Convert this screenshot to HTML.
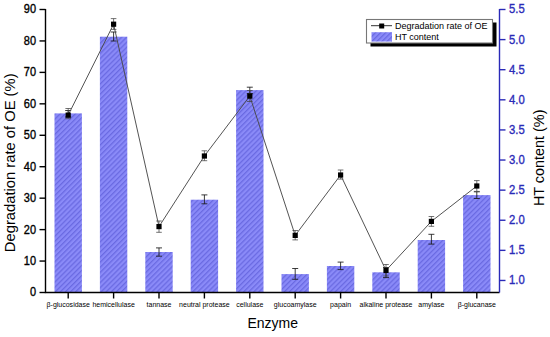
<!DOCTYPE html><html><head><meta charset="utf-8"><style>html,body{margin:0;padding:0;background:#fff;font-family:"Liberation Sans",sans-serif;}svg{display:block;}</style></head><body>
<svg width="550" height="337" viewBox="0 0 550 337" style="font-family:&quot;Liberation Sans&quot;,sans-serif">
<defs><pattern id="h" patternUnits="userSpaceOnUse" width="3.6" height="3.6" patternTransform="rotate(-45)"><rect width="3.6" height="3.6" fill="#8a8af8"/><rect width="3.6" height="1.3" fill="#6a6ae2"/></pattern></defs>
<rect width="550" height="337" fill="#fff"/>
<rect x="54.50" y="113.40" width="27.4" height="179.10" fill="url(#h)"/>
<rect x="99.90" y="36.70" width="27.4" height="255.80" fill="url(#h)"/>
<rect x="145.30" y="252.00" width="27.4" height="40.50" fill="url(#h)"/>
<rect x="190.70" y="199.70" width="27.4" height="92.80" fill="url(#h)"/>
<rect x="236.10" y="90.10" width="27.4" height="202.40" fill="url(#h)"/>
<rect x="281.50" y="274.10" width="27.4" height="18.40" fill="url(#h)"/>
<rect x="326.90" y="266.00" width="27.4" height="26.50" fill="url(#h)"/>
<rect x="372.30" y="272.30" width="27.4" height="20.20" fill="url(#h)"/>
<rect x="417.70" y="240.00" width="27.4" height="52.50" fill="url(#h)"/>
<rect x="463.10" y="195.10" width="27.4" height="97.40" fill="url(#h)"/>
<path d="M65.20 110.5H71.20M68.20 110.5V117.0M65.20 117.0H71.20" stroke="#1a1a1a" stroke-width="0.85" fill="none"/>
<path d="M110.60 32.0H116.60M113.60 32.0V41.0M110.60 41.0H116.60" stroke="#1a1a1a" stroke-width="0.85" fill="none"/>
<path d="M156.00 247.9H162.00M159.00 247.9V256.2M156.00 256.2H162.00" stroke="#1a1a1a" stroke-width="0.85" fill="none"/>
<path d="M201.40 194.9H207.40M204.40 194.9V203.8M201.40 203.8H207.40" stroke="#1a1a1a" stroke-width="0.85" fill="none"/>
<path d="M246.80 87.2H252.80M249.80 87.2V93.5M246.80 93.5H252.80" stroke="#1a1a1a" stroke-width="0.85" fill="none"/>
<path d="M292.20 268.5H298.20M295.20 268.5V279.3M292.20 279.3H298.20" stroke="#1a1a1a" stroke-width="0.85" fill="none"/>
<path d="M337.60 262.1H343.60M340.60 262.1V269.6M337.60 269.6H343.60" stroke="#1a1a1a" stroke-width="0.85" fill="none"/>
<path d="M383.00 267.5H389.00M386.00 267.5V277.6M383.00 277.6H389.00" stroke="#1a1a1a" stroke-width="0.85" fill="none"/>
<path d="M428.40 234.3H434.40M431.40 234.3V244.1M428.40 244.1H434.40" stroke="#1a1a1a" stroke-width="0.85" fill="none"/>
<path d="M473.80 191.8H479.80M476.80 191.8V198.5M473.80 198.5H479.80" stroke="#1a1a1a" stroke-width="0.85" fill="none"/>
<polyline points="68.20,115.1 113.60,24.2 159.00,226.6 204.40,156.0 249.80,96.1 295.20,235.4 340.60,175.0 386.00,270.4 431.40,221.4 476.80,186.0" fill="none" stroke="#4a4a4a" stroke-width="0.95"/>
<path d="M65.40 108.5H71.00M68.20 108.5V118.7M65.40 118.7H71.00" stroke="#444" stroke-width="0.75" fill="none"/>
<path d="M110.80 18.6H116.40M113.60 18.6V29.4M110.80 29.4H116.40" stroke="#444" stroke-width="0.75" fill="none"/>
<path d="M156.20 221.0H161.80M159.00 221.0V232.3M156.20 232.3H161.80" stroke="#444" stroke-width="0.75" fill="none"/>
<path d="M201.60 150.8H207.20M204.40 150.8V160.7M201.60 160.7H207.20" stroke="#444" stroke-width="0.75" fill="none"/>
<path d="M247.00 90.5H252.60M249.80 90.5V101.5M247.00 101.5H252.60" stroke="#444" stroke-width="0.75" fill="none"/>
<path d="M292.40 230.5H298.00M295.20 230.5V239.9M292.40 239.9H298.00" stroke="#444" stroke-width="0.75" fill="none"/>
<path d="M337.80 170.0H343.40M340.60 170.0V179.1M337.80 179.1H343.40" stroke="#444" stroke-width="0.75" fill="none"/>
<path d="M383.20 264.5H388.80M386.00 264.5V276.0M383.20 276.0H388.80" stroke="#444" stroke-width="0.75" fill="none"/>
<path d="M428.60 216.5H434.20M431.40 216.5V226.3M428.60 226.3H434.20" stroke="#444" stroke-width="0.75" fill="none"/>
<path d="M474.00 180.6H479.60M476.80 180.6V191.4M474.00 191.4H479.60" stroke="#444" stroke-width="0.75" fill="none"/>
<rect x="65.60" y="112.50" width="5.2" height="5.2" fill="#000"/>
<rect x="111.00" y="21.60" width="5.2" height="5.2" fill="#000"/>
<rect x="156.40" y="224.00" width="5.2" height="5.2" fill="#000"/>
<rect x="201.80" y="153.40" width="5.2" height="5.2" fill="#000"/>
<rect x="247.20" y="93.50" width="5.2" height="5.2" fill="#000"/>
<rect x="292.60" y="232.80" width="5.2" height="5.2" fill="#000"/>
<rect x="338.00" y="172.40" width="5.2" height="5.2" fill="#000"/>
<rect x="383.40" y="267.80" width="5.2" height="5.2" fill="#000"/>
<rect x="428.80" y="218.80" width="5.2" height="5.2" fill="#000"/>
<rect x="474.20" y="183.40" width="5.2" height="5.2" fill="#000"/>
<path d="M45.5 9.0V292.5H499.5" stroke="#000" stroke-width="1.4" fill="none"/>
<path d="M39.5 292.50H45.5" stroke="#000" stroke-width="1.4"/>
<text transform="translate(36,296.40) scale(0.9,1)" font-size="12.2" text-anchor="end" fill="#000" stroke="#000" stroke-width="0.35">0</text>
<path d="M39.5 261.06H45.5" stroke="#000" stroke-width="1.4"/>
<text transform="translate(36,264.96) scale(0.9,1)" font-size="12.2" text-anchor="end" fill="#000" stroke="#000" stroke-width="0.35">10</text>
<path d="M39.5 229.61H45.5" stroke="#000" stroke-width="1.4"/>
<text transform="translate(36,233.51) scale(0.9,1)" font-size="12.2" text-anchor="end" fill="#000" stroke="#000" stroke-width="0.35">20</text>
<path d="M39.5 198.17H45.5" stroke="#000" stroke-width="1.4"/>
<text transform="translate(36,202.07) scale(0.9,1)" font-size="12.2" text-anchor="end" fill="#000" stroke="#000" stroke-width="0.35">30</text>
<path d="M39.5 166.72H45.5" stroke="#000" stroke-width="1.4"/>
<text transform="translate(36,170.62) scale(0.9,1)" font-size="12.2" text-anchor="end" fill="#000" stroke="#000" stroke-width="0.35">40</text>
<path d="M39.5 135.28H45.5" stroke="#000" stroke-width="1.4"/>
<text transform="translate(36,139.18) scale(0.9,1)" font-size="12.2" text-anchor="end" fill="#000" stroke="#000" stroke-width="0.35">50</text>
<path d="M39.5 103.83H45.5" stroke="#000" stroke-width="1.4"/>
<text transform="translate(36,107.73) scale(0.9,1)" font-size="12.2" text-anchor="end" fill="#000" stroke="#000" stroke-width="0.35">60</text>
<path d="M39.5 72.39H45.5" stroke="#000" stroke-width="1.4"/>
<text transform="translate(36,76.29) scale(0.9,1)" font-size="12.2" text-anchor="end" fill="#000" stroke="#000" stroke-width="0.35">70</text>
<path d="M39.5 40.94H45.5" stroke="#000" stroke-width="1.4"/>
<text transform="translate(36,44.84) scale(0.9,1)" font-size="12.2" text-anchor="end" fill="#000" stroke="#000" stroke-width="0.35">80</text>
<path d="M39.5 9.50H45.5" stroke="#000" stroke-width="1.4"/>
<text transform="translate(36,13.40) scale(0.9,1)" font-size="12.2" text-anchor="end" fill="#000" stroke="#000" stroke-width="0.35">90</text>
<path d="M68.20 292.5V298.5" stroke="#000" stroke-width="1.4"/>
<text transform="translate(68.20,307.3) scale(0.91,1)" font-size="7.7" text-anchor="middle" fill="#000">β-glucosidase</text>
<path d="M113.60 292.5V298.5" stroke="#000" stroke-width="1.4"/>
<text transform="translate(113.60,307.3) scale(0.91,1)" font-size="7.7" text-anchor="middle" fill="#000">hemicellulase</text>
<path d="M159.00 292.5V298.5" stroke="#000" stroke-width="1.4"/>
<text transform="translate(159.00,307.3) scale(0.91,1)" font-size="7.7" text-anchor="middle" fill="#000">tannase</text>
<path d="M204.40 292.5V298.5" stroke="#000" stroke-width="1.4"/>
<text transform="translate(204.40,307.3) scale(0.91,1)" font-size="7.7" text-anchor="middle" fill="#000">neutral protease</text>
<path d="M249.80 292.5V298.5" stroke="#000" stroke-width="1.4"/>
<text transform="translate(249.80,307.3) scale(0.91,1)" font-size="7.7" text-anchor="middle" fill="#000">cellulase</text>
<path d="M295.20 292.5V298.5" stroke="#000" stroke-width="1.4"/>
<text transform="translate(295.20,307.3) scale(0.91,1)" font-size="7.7" text-anchor="middle" fill="#000">glucoamylase</text>
<path d="M340.60 292.5V298.5" stroke="#000" stroke-width="1.4"/>
<text transform="translate(340.60,307.3) scale(0.91,1)" font-size="7.7" text-anchor="middle" fill="#000">papain</text>
<path d="M386.00 292.5V298.5" stroke="#000" stroke-width="1.4"/>
<text transform="translate(386.00,307.3) scale(0.91,1)" font-size="7.7" text-anchor="middle" fill="#000">alkaline protease</text>
<path d="M431.40 292.5V298.5" stroke="#000" stroke-width="1.4"/>
<text transform="translate(431.40,307.3) scale(0.91,1)" font-size="7.7" text-anchor="middle" fill="#000">amylase</text>
<path d="M476.80 292.5V298.5" stroke="#000" stroke-width="1.4"/>
<text transform="translate(476.80,307.3) scale(0.91,1)" font-size="7.7" text-anchor="middle" fill="#000">β-glucanase</text>
<path d="M499.5 292.5V9.0" stroke="#2a2ab8" stroke-width="1.4" fill="none"/>
<path d="M499.5 280.46H505.5" stroke="#2a2ab8" stroke-width="1.4"/>
<text transform="translate(509,284.36) scale(0.92,1)" font-size="12.3" fill="#2a2ab8" stroke="#2a2ab8" stroke-width="0.35">1.0</text>
<path d="M499.5 250.35H505.5" stroke="#2a2ab8" stroke-width="1.4"/>
<text transform="translate(509,254.25) scale(0.92,1)" font-size="12.3" fill="#2a2ab8" stroke="#2a2ab8" stroke-width="0.35">1.5</text>
<path d="M499.5 220.24H505.5" stroke="#2a2ab8" stroke-width="1.4"/>
<text transform="translate(509,224.14) scale(0.92,1)" font-size="12.3" fill="#2a2ab8" stroke="#2a2ab8" stroke-width="0.35">2.0</text>
<path d="M499.5 190.14H505.5" stroke="#2a2ab8" stroke-width="1.4"/>
<text transform="translate(509,194.04) scale(0.92,1)" font-size="12.3" fill="#2a2ab8" stroke="#2a2ab8" stroke-width="0.35">2.5</text>
<path d="M499.5 160.03H505.5" stroke="#2a2ab8" stroke-width="1.4"/>
<text transform="translate(509,163.93) scale(0.92,1)" font-size="12.3" fill="#2a2ab8" stroke="#2a2ab8" stroke-width="0.35">3.0</text>
<path d="M499.5 129.93H505.5" stroke="#2a2ab8" stroke-width="1.4"/>
<text transform="translate(509,133.83) scale(0.92,1)" font-size="12.3" fill="#2a2ab8" stroke="#2a2ab8" stroke-width="0.35">3.5</text>
<path d="M499.5 99.82H505.5" stroke="#2a2ab8" stroke-width="1.4"/>
<text transform="translate(509,103.72) scale(0.92,1)" font-size="12.3" fill="#2a2ab8" stroke="#2a2ab8" stroke-width="0.35">4.0</text>
<path d="M499.5 69.71H505.5" stroke="#2a2ab8" stroke-width="1.4"/>
<text transform="translate(509,73.61) scale(0.92,1)" font-size="12.3" fill="#2a2ab8" stroke="#2a2ab8" stroke-width="0.35">4.5</text>
<path d="M499.5 39.61H505.5" stroke="#2a2ab8" stroke-width="1.4"/>
<text transform="translate(509,43.51) scale(0.92,1)" font-size="12.3" fill="#2a2ab8" stroke="#2a2ab8" stroke-width="0.35">5.0</text>
<path d="M499.5 9.50H505.5" stroke="#2a2ab8" stroke-width="1.4"/>
<text transform="translate(509,13.40) scale(0.92,1)" font-size="12.3" fill="#2a2ab8" stroke="#2a2ab8" stroke-width="0.35">5.5</text>
<text x="247.5" y="328.3" font-size="14" fill="#000">Enzyme</text>
<text transform="translate(15,162.8) rotate(-90)" font-size="14.75" text-anchor="middle" fill="#000">Degradation rate of OE (%)</text>
<text transform="translate(544.2,157.8) rotate(-90)" font-size="14.4" text-anchor="middle" fill="#000">HT content (%)</text>
<rect x="370.5" y="22.5" width="126" height="24" fill="#000"/>
<rect x="366.5" y="19.5" width="126" height="23.5" fill="#fff" stroke="#777" stroke-width="1.1"/>
<path d="M371 25.7H392" stroke="#333" stroke-width="1"/>
<rect x="379.2" y="23.5" width="5" height="5" fill="#000"/>
<rect x="371.5" y="32.2" width="20.5" height="9.4" fill="url(#h)"/>
<text x="395" y="29.2" font-size="9" fill="#000">Degradation rate of OE</text>
<text x="395" y="39.7" font-size="9" fill="#000">HT content</text>
</svg></body></html>
